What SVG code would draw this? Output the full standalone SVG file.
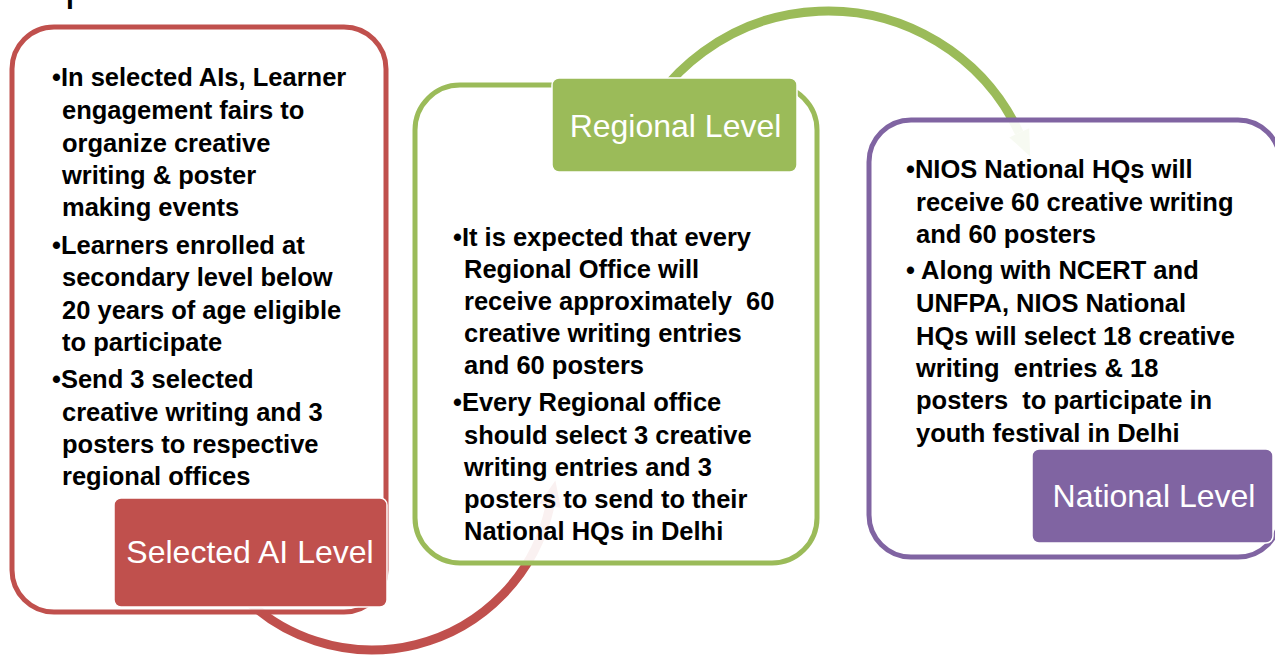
<svg xmlns="http://www.w3.org/2000/svg" width="1275" height="656" viewBox="0 0 1275 656">
<defs>
<style>
.box{fill:#ffffff;fill-opacity:0.92;stroke-width:5}
.lbl{stroke:#ffffff;stroke-width:1.5}
.lt{font-family:"Liberation Sans",Arial,sans-serif;font-size:32px;fill:#ffffff;text-anchor:middle}
.bt{font-family:"Liberation Sans",Arial,sans-serif;font-size:25.5px;font-weight:bold;fill:#000000}
.arc{fill:none;stroke-width:9}
</style>
</defs>
<rect width="1275" height="656" fill="#ffffff"/>
<text x="65" y="0" font-family="Liberation Sans, Arial, sans-serif" font-size="44" fill="#000000">p</text>
<g id="connectors">
<path class="arc" stroke="#C0504D" d="M 232.6 585 A 182 182 0 0 0 550 505.8"/>
<polygon fill="#C0504D" points="555.4,480.4 560.8,508.1 539.2,503.5"/>
<path class="arc" stroke="#9BBB59" stroke-width="8" d="M 629.7 149.8 A 211 211 0 0 1 1019.2 132.8"/>
<polygon fill="#9BBB59" points="1030.2,156.4 1029.2,128.2 1009.2,137.4"/>
</g>
<g id="node-ai">
<rect class="box" x="12" y="27" width="374" height="585" rx="42" stroke="#C0504D"/>
<text class="bt" x="52" y="86">•In selected AIs, Learner</text>
<text class="bt" x="62" y="119">engagement fairs to</text>
<text class="bt" x="62" y="152">organize creative</text>
<text class="bt" x="62" y="184">writing &amp; poster</text>
<text class="bt" x="62" y="216">making events</text>
<text class="bt" x="52" y="254">•Learners enrolled at</text>
<text class="bt" x="62" y="286">secondary level below</text>
<text class="bt" x="62" y="319">20 years of age eligible</text>
<text class="bt" x="62" y="351">to participate</text>
<text class="bt" x="52" y="388">•Send 3 selected</text>
<text class="bt" x="62" y="421">creative writing and 3</text>
<text class="bt" x="62" y="453">posters to respective</text>
<text class="bt" x="62" y="485">regional offices</text>
<rect class="lbl" x="114" y="498" width="273" height="109" rx="7" fill="#C0504D"/>
<text class="lt" x="250" y="563">Selected AI Level</text>
</g>
<g id="node-regional">
<rect class="box" x="415" y="85" width="402" height="478" rx="45" stroke="#9BBB59"/>
<text class="bt" x="453" y="246">•It is expected that every</text>
<text class="bt" x="464" y="278">Regional Office will</text>
<text class="bt" x="464" y="310" xml:space="preserve">receive approximately  60</text>
<text class="bt" x="464" y="342">creative writing entries</text>
<text class="bt" x="464" y="374">and 60 posters</text>
<text class="bt" x="453" y="411">•Every Regional office</text>
<text class="bt" x="464" y="444">should select 3 creative</text>
<text class="bt" x="464" y="476">writing entries and 3</text>
<text class="bt" x="464" y="508">posters to send to their</text>
<text class="bt" x="464" y="540">National HQs in Delhi</text>
<rect class="lbl" x="552" y="78" width="245" height="94" rx="7" fill="#9BBB59"/>
<text class="lt" x="675.5" y="137">Regional Level</text>
</g>
<g id="node-national">
<rect class="box" x="869" y="120" width="411" height="437" rx="42" stroke="#8064A2"/>
<text class="bt" x="906" y="178">•NIOS National HQs will</text>
<text class="bt" x="916" y="211">receive 60 creative writing</text>
<text class="bt" x="916" y="243">and 60 posters</text>
<text class="bt" x="906" y="279" xml:space="preserve">• Along with NCERT and</text>
<text class="bt" x="916" y="312">UNFPA, NIOS National</text>
<text class="bt" x="916" y="345">HQs will select 18 creative</text>
<text class="bt" x="916" y="377" xml:space="preserve">writing  entries &amp; 18</text>
<text class="bt" x="916" y="409" xml:space="preserve">posters  to participate in</text>
<text class="bt" x="916" y="442">youth festival in Delhi</text>
<rect class="lbl" x="1032" y="449" width="241" height="94" rx="7" fill="#8064A2"/>
<text class="lt" x="1154" y="507">National Level</text>
</g>
</svg>
